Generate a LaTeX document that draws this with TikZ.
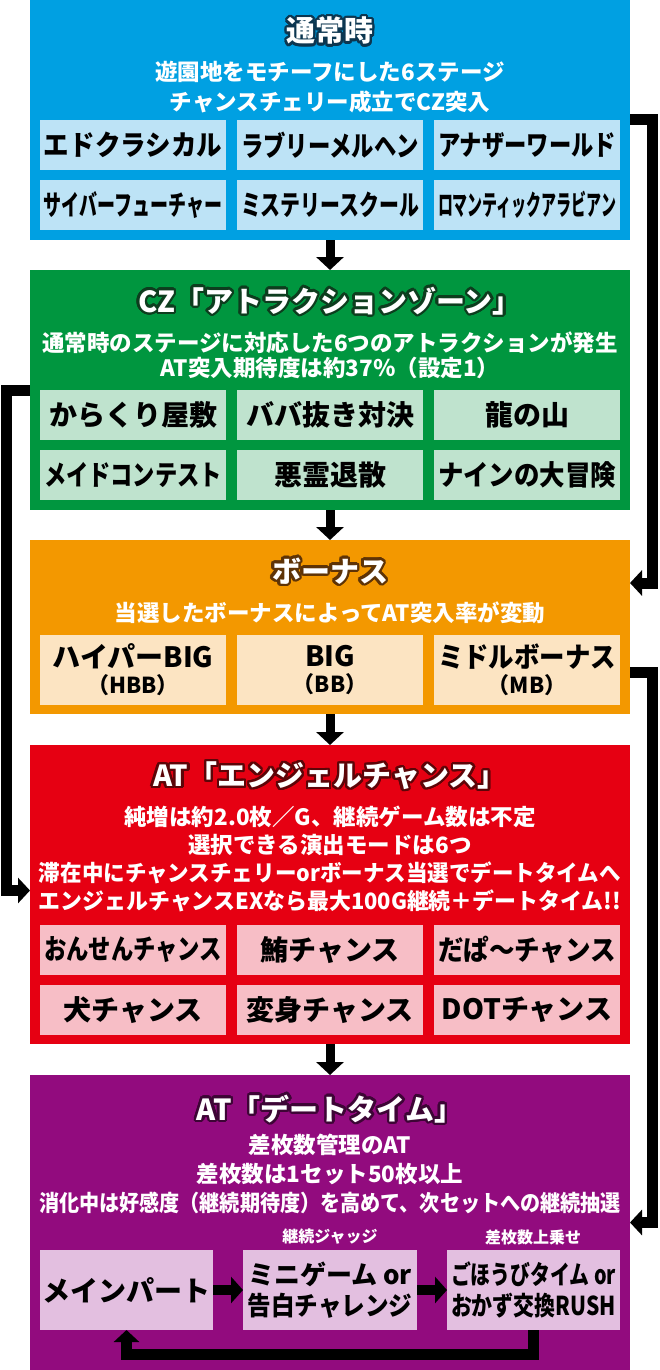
\documentclass[tikz,border=0pt]{standalone}
\usepackage{fontspec}
\setmainfont{Noto Sans CJK JP}[BoldFont={* Black}]
\usepackage{graphicx}
\usepackage[copies]{contour}
\usetikzlibrary{arrows.meta, positioning}

% Panel colours
\definecolor{normalbg}{HTML}{00A0E2}
\definecolor{normalbox}{HTML}{BDE3F6}
\definecolor{normalrim}{HTML}{0C3650}
\definecolor{czbg}{HTML}{00963F}
\definecolor{czbox}{HTML}{BFE3CE}
\definecolor{czrim}{HTML}{0D3D1E}
\definecolor{bonusbg}{HTML}{F39800}
\definecolor{bonusbox}{HTML}{FCE4C2}
\definecolor{bonusrim}{HTML}{5E3306}
\definecolor{angelbg}{HTML}{E60012}
\definecolor{angelbox}{HTML}{F7BEC6}
\definecolor{angelrim}{HTML}{5C0508}
\definecolor{datebg}{HTML}{920B7E}
\definecolor{datebox}{HTML}{E3BFE0}
\definecolor{daterim}{HTML}{3D0535}

\contourlength{2.4pt}
\contournumber{24}

% squeeze a line to a maximum width
\newsavebox\fitbox
\newcommand\fitto[2]{\sbox\fitbox{#2}\ifdim\wd\fitbox>#1\relax\resizebox{#1}{\ht\fitbox}{\usebox\fitbox}\else\usebox\fitbox\fi}

\tikzset{
  panel/.style={minimum width=600, minimum height=#1, inner sep=0pt, outer sep=0pt},
  item/.style={minimum width=186, minimum height=50, inner sep=0pt, outer sep=0pt, text=black, font=\bfseries\fontsize{28}{30}\selectfont},
  heading/.style={text=white, font=\bfseries\fontsize{29}{30}\selectfont},
  desc/.style={text=white, align=center, font=\bfseries\fontsize{22.5}{#1}\selectfont},
  tag/.style={text=white, font=\bfseries\fontsize{16}{18}\selectfont},
  flow/.style={line width=9, -{Triangle[length=13pt,width=27pt]}},
  link/.style={line width=11, -{Triangle[length=12pt,width=25pt]}},
  hop/.style={line width=10, -{Triangle[length=12pt,width=26pt]}}
}

\begin{document}
\begin{tikzpicture}[x=1pt, y=-1pt]

	% Dimensions
	\def\colA{133}
	\def\colB{330}
	\def\colC{527}
	\def\fullw{582pt}
	\def\itemw{178pt}

	\useasboundingbox (0,0) rectangle (660,1370);

	% Normal mode
	\node[panel=240, fill=normalbg] (normal) at (330,120) {};
	\node[heading] (normalttl) at (330,32) {\contour{normalrim}{通常時}};
	\node[desc=30] (normaltxt) at (330,87) {遊園地をモチーフにした6ステージ\\チャンスチェリー成立でCZ突入};
	\node[item, fill=normalbox] (stage1) at (\colA,145) {\fitto{\itemw}{エドクラシカル}};
	\node[item, fill=normalbox] (stage2) at (\colB,145) {\fitto{\itemw}{ラブリーメルヘン}};
	\node[item, fill=normalbox] (stage3) at (\colC,145) {\fitto{\itemw}{アナザーワールド}};
	\node[item, fill=normalbox] (stage4) at (\colA,205) {\fitto{\itemw}{サイバーフューチャー}};
	\node[item, fill=normalbox] (stage5) at (\colB,205) {\fitto{\itemw}{ミステリースクール}};
	\node[item, fill=normalbox] (stage6) at (\colC,205) {\fitto{\itemw}{ロマンティックアラビアン}};

	% CZ
	\node[panel=240, fill=czbg] (cz) at (330,390) {};
	\node[heading] (czttl) at (330,302) {\contour{czrim}{CZ「アトラクションゾーン」}};
	\node[desc=25] (cztxt) at (330,355) {\fitto{\fullw}{通常時のステージに対応した6つのアトラクションが発生}\\AT突入期待度は約37％（設定1）};
	\node[item, fill=czbox] (attr1) at (\colA,415) {\fitto{\itemw}{からくり屋敷}};
	\node[item, fill=czbox] (attr2) at (\colB,415) {\fitto{\itemw}{ババ抜き対決}};
	\node[item, fill=czbox] (attr3) at (\colC,415) {\fitto{\itemw}{龍の山}};
	\node[item, fill=czbox] (attr4) at (\colA,475) {\fitto{\itemw}{メイドコンテスト}};
	\node[item, fill=czbox] (attr5) at (\colB,475) {\fitto{\itemw}{悪霊退散}};
	\node[item, fill=czbox] (attr6) at (\colC,475) {\fitto{\itemw}{ナインの大冒険}};

	% Bonus
	\node[panel=174, fill=bonusbg] (bonus) at (330,627) {};
	\node[heading] (bonusttl) at (330,572) {\contour{bonusrim}{ボーナス}};
	\node[desc=28] (bonustxt) at (330,613) {当選したボーナスによってAT突入率が変動};
	\node[item, fill=bonusbox, minimum height=70, align=center] (hbb) at (\colA,670) {\fitto{\itemw}{ハイパーBIG}\\[-4pt]{\fontsize{22}{24}\selectfont （HBB）}};
	\node[item, fill=bonusbox, minimum height=70, align=center] (bb) at (\colB,670) {BIG\\[-4pt]{\fontsize{22}{24}\selectfont （BB）}};
	\node[item, fill=bonusbox, minimum height=70, align=center] (mb) at (\colC,670) {\fitto{\itemw}{ミドルボーナス}\\[-4pt]{\fontsize{22}{24}\selectfont （MB）}};

	% Angel chance
	\node[panel=299, fill=angelbg] (angel) at (330,894.5) {};
	\node[heading] (angelttl) at (330,777) {\contour{angelrim}{AT「エンジェルチャンス」}};
	\node[desc=28] (angeltxt) at (330,859) {\fitto{\fullw}{純増は約2.0枚／G、継続ゲーム数は不定}\\選択できる演出モードは6つ\\\fitto{\fullw}{滞在中にチャンスチェリーorボーナス当選でデートタイムへ}\\\fitto{\fullw}{エンジェルチャンスEXなら最大100G継続＋デートタイム!!}};
	\node[item, fill=angelbox] (mode1) at (\colA,950) {\fitto{\itemw}{おんせんチャンス}};
	\node[item, fill=angelbox] (mode2) at (\colB,950) {\fitto{\itemw}{鮪チャンス}};
	\node[item, fill=angelbox] (mode3) at (\colC,950) {\fitto{\itemw}{だぱ〜チャンス}};
	\node[item, fill=angelbox] (mode4) at (\colA,1010) {\fitto{\itemw}{犬チャンス}};
	\node[item, fill=angelbox] (mode5) at (\colB,1010) {\fitto{\itemw}{変身チャンス}};
	\node[item, fill=angelbox] (mode6) at (\colC,1010) {\fitto{\itemw}{DOTチャンス}};

	% Date time
	\node[panel=295, fill=datebg] (date) at (330,1222.5) {};
	\node[heading] (datettl) at (330,1110) {\contour{daterim}{AT「デートタイム」}};
	\node[desc=29] (datetxt) at (330,1174) {差枚数管理のAT\\差枚数は1セット50枚以上\\\fitto{\fullw}{消化中は好感度（継続期待度）を高めて、次セットへの継続抽選}};
	\node[tag] (judgetag) at (330,1237) {継続ジャッジ};
	\node[tag] (rewardtag) at (533,1237) {差枚数上乗せ};
	\node[item, fill=datebox, minimum width=173, minimum height=80, font=\bfseries\fontsize{28}{31}\selectfont] (mainpart) at (126.5,1290) {メインパート};
	\node[item, fill=datebox, minimum width=174, minimum height=80, align=center, font=\bfseries\fontsize{26}{31}\selectfont] (judge) at (330,1290) {\fitto{165pt}{ミニゲーム or}\\\fitto{165pt}{告白チャレンジ}};
	\node[item, fill=datebox, minimum width=173, minimum height=80, align=center, font=\bfseries\fontsize{26}{31}\selectfont] (reward) at (533.5,1290) {\fitto{165pt}{ごほうびタイム or}\\\fitto{165pt}{おかず交換RUSH}};

	% Flow between panels
	\draw[flow] (normal.south) -- (cz.north);
	\draw[flow] (cz.south) -- (bonus.north);
	\draw[flow] (bonus.south) -- (angel.north);
	\draw[flow] (angel.south) -- (date.north);

	% Side links
	\draw[link] (normal.east) -- ++(22,0) |- ([yshift=44pt]bonus.east);
	\draw[link] (cz.west) -- ++(-24,0) |- ([yshift=4pt]angel.west);
	\draw[link] ([yshift=-45pt]bonus.east) -- ++(22,0) |- (date.east);

	% Date time loop
	\draw[hop] (mainpart) -- (judge);
	\draw[hop] (judge) -- (reward);
	\draw[link] (reward.south) -- ++(0,24) -| (mainpart.south);

\end{tikzpicture}
\end{document}
